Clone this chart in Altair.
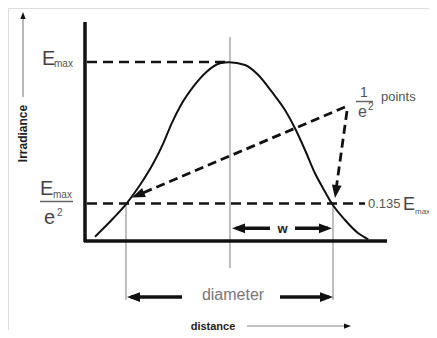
import altair as alt
import numpy as np
import pandas as pd

# ---- data (screen-pixel units of the diagram) ----
# beam profile curve
curve_x = [95, 113.3, 126.7, 140, 153.3, 163.3, 171.7, 180, 193.3, 206.7, 220, 229,
           245, 258.3, 271.7, 285, 295, 305, 315, 325, 331.7, 345, 358.3, 368.3]
curve_y = [236.7, 218.3, 203.3, 185, 163.3, 143.3, 123.3, 106.7, 86.7, 71.7, 63.3, 62.2,
           65, 75, 91.7, 110, 128.3, 150, 173.3, 191.7, 203.3, 220, 233.3, 239.3]

# axes frame (x1, y1, x2, y2)
axis_x1 = [85, 84]
axis_y1 = [22, 241]
axis_x2 = [85, 387]
axis_y2 = [242, 241]

# thin gray guide lines
guide_x1 = [230, 126, 333]
guide_y1 = [37, 203, 203]
guide_x2 = [230, 126, 333]
guide_y2 = [268, 300, 300]

# horizontal dashed levels (Emax and 0.135 Emax)
level_x1 = [87, 87]
level_y1 = [62, 203.5]
level_x2 = [229, 365]
level_y2 = [62, 203.5]

# dashed pointers from the "1/e² points" label
ptr_x1 = [345, 347]
ptr_y1 = [107, 111]
ptr_x2 = [138, 336]
ptr_y2 = [195, 190]

# thick arrow shafts (w and diameter)
shaft_x1 = [236, 295, 131, 280]
shaft_y1 = [228.3, 228.3, 297, 297]
shaft_x2 = [270, 328, 182, 329]
shaft_y2 = [228.3, 228.3, 297, 297]

# thin axis-title arrows
thin_x1 = [23, 247]
thin_y1 = [97, 326]
thin_x2 = [23, 346]
thin_y2 = [16, 326]

# big arrowheads: tip and a point behind it (gives direction)
big_tip_x = [132, 335, 232, 332, 127, 333]
big_tip_y = [197.5, 198, 228.3, 228.3, 297, 297]
big_from_x = [345, 347, 270, 295, 182, 280]
big_from_y = [107, 111, 228.3, 228.3, 297, 297]

# small arrowheads
small_tip_x = [23, 351]
small_tip_y = [12, 326]
small_from_x = [23, 247]
small_from_y = [97, 326]

# texts
big_txt = ["E", "E", "e"]
big_txt_x = [42, 40, 44]
big_txt_y = [65, 195, 224]

sub_txt = ["max", "max"]
sub_txt_x = [54, 53]
sub_txt_y = [67, 198]

sup_txt = ["2", "2"]
sup_txt_x = [57, 368]
sup_txt_y = [216, 110]

frac_x1 = [40, 356]
frac_x2 = [73, 373]
frac_y = [201.5, 101.5]

mid_txt = ["1", "e", "points", "0.135"]
mid_txt_x = [360, 358, 381, 368]
mid_txt_y = [97, 117, 101, 208]
mid_txt_size = [14, 16, 13, 13]

# "0.135 E max" on the right edge
r_e_x, r_e_y = 403, 210
r_sub_x, r_sub_y = 415, 214

# ---- helpers ----
XS = alt.Scale(domain=[8, 429], nice=False, zero=False)
YS = alt.Scale(domain=[8, 330], nice=False, zero=False, reverse=True)


def X(f):
    return alt.X(f, type="quantitative", scale=XS, axis=None)


def Y(f):
    return alt.Y(f, type="quantitative", scale=YS, axis=None)


def rules(x1, y1, x2, y2, **kw):
    df = pd.DataFrame({"x1": x1, "y1": y1, "x2": x2, "y2": y2})
    return alt.Chart(df).mark_rule(**kw).encode(
        x=X("x1"), y=Y("y1"), x2="x2:Q", y2="y2:Q")


def heads(tx, ty, fx, fy, size, **kw):
    tx = np.array(tx, float); ty = np.array(ty, float)
    dx = tx - np.array(fx, float); dy = ty - np.array(fy, float)
    ang = (np.degrees(np.arctan2(dx, -dy)) + 360) % 360
    df = pd.DataFrame({"x": tx, "y": ty, "a": ang})
    return alt.Chart(df).mark_point(
        shape="M0,0L-0.75,2L0.75,2Z", filled=True, size=size, opacity=1,
        color="#111", strokeWidth=0, **kw).encode(
        x=X("x"), y=Y("y"), angle=alt.Angle("a:Q", scale=None))


def texts(t, x, y, **kw):
    df = pd.DataFrame({"x": x, "y": y, "t": t})
    return alt.Chart(df).mark_text(baseline="alphabetic", **kw).encode(
        x=X("x"), y=Y("y"), text="t:N")


FONT = "Liberation Sans"

curve = alt.Chart(pd.DataFrame({"x": curve_x, "y": curve_y})).mark_line(
    color="#111", strokeWidth=2, interpolate="monotone").encode(
    x=X("x"), y=Y("y"), order="x:Q")

layers = [
    rules(guide_x1, guide_y1, guide_x2, guide_y2, color="#aaaaaa", strokeWidth=1.5),
    rules(level_x1, level_y1, level_x2, level_y2, color="#111", strokeWidth=2.5,
          strokeDash=[10, 6]),
    rules(ptr_x1, ptr_y1, ptr_x2, ptr_y2, color="#111", strokeWidth=2.8,
          strokeDash=[9, 5]),
    curve,
    rules(axis_x1, axis_y1, axis_x2, axis_y2, color="#111", strokeWidth=3.5),
    rules(shaft_x1, shaft_y1, shaft_x2, shaft_y2, color="#111", strokeWidth=3.5),
    rules(thin_x1, thin_y1, thin_x2, thin_y2, color="#888", strokeWidth=1.2),
    rules(frac_x1, frac_y, frac_x2, frac_y, color="#666", strokeWidth=1.5),
    heads(big_tip_x, big_tip_y, big_from_x, big_from_y, 169),
    heads(small_tip_x, small_tip_y, small_from_x, small_from_y, 49),
    texts(big_txt, big_txt_x, big_txt_y, align="left", font=FONT, fontSize=20,
          color="#444"),
    texts(sub_txt, sub_txt_x, sub_txt_y, align="left", font=FONT, fontSize=10,
          color="#555"),
    texts(sup_txt, sup_txt_x, sup_txt_y, align="left", font=FONT, fontSize=10,
          color="#555"),
    texts(["E"], [r_e_x], [r_e_y], align="left", font=FONT, fontSize=18, color="#444"),
    texts(["max"], [r_sub_x], [r_sub_y], align="left", font=FONT, fontSize=8,
          color="#555"),
]

for t, x, y, s in zip(mid_txt, mid_txt_x, mid_txt_y, mid_txt_size):
    layers.append(texts([t], [x], [y], align="left", font=FONT, fontSize=s, color="#555"))

layers += [
    texts(["w"], [282.5], [233], align="center", font=FONT, fontSize=13,
          fontWeight="bold", color="#222"),
    texts(["diameter"], [233], [299.5], align="center", font=FONT, fontSize=16,
          color="#777"),
    texts(["distance"], [213], [329.5], align="center", font=FONT, fontSize=11,
          fontWeight="bold", color="#222"),
    texts(["Irradiance"], [26.5], [133.5], align="center", font=FONT, fontSize=12,
          fontWeight="bold", color="#222", angle=270),
]

chart = alt.layer(*layers).properties(
    width=421, height=322, padding=0,
    autosize=alt.AutoSizeParams(type="none"),
).configure_view(stroke=None).configure(background="white")

chart.save("out.html", embed_options={"renderer": "svg", "actions": False})
